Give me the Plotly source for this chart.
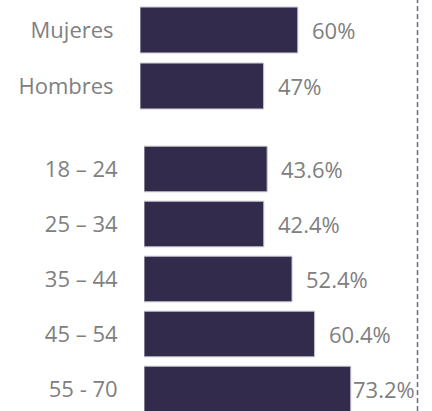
import plotly.graph_objects as go

gender_labels = ["Mujeres", "Hombres"]
gender_values = [60, 47]
age_labels = ["18 – 24", "25 – 34", "35 – 44", "45 – 54", "55 - 70"]
age_values = [43.6, 42.4, 52.4, 60.4, 73.2]

W, H = 432, 411
BAR = "#322b4b"
TXT = "#808080"
FONT = "Open Sans"
FS = 22

fig = go.Figure()
fig.add_trace(go.Bar(
    y=gender_labels, x=gender_values, orientation="h", width=0.82,
    marker=dict(color=BAR, line=dict(color="#c8c8d0", width=1)),
    xaxis="x", yaxis="y", hoverinfo="skip", showlegend=False))
fig.add_trace(go.Bar(
    y=age_labels, x=age_values, orientation="h", width=0.83,
    marker=dict(color=BAR, line=dict(color="#c8c8d0", width=1)),
    xaxis="x2", yaxis="y2", hoverinfo="skip", showlegend=False))

def fy(px):
    return 1 - px / H

line_x = 417.5
x1_left, x1_scale = 140, 2.63
x2_left, x2_scale = 144, 2.825

axis_common = dict(showgrid=False, zeroline=False, showline=False, fixedrange=True)
fig.update_layout(
    width=W, height=H, margin=dict(l=0, r=0, t=0, b=0),
    paper_bgcolor="white", plot_bgcolor="white",
    font=dict(family=FONT, size=FS, color=TXT),
    xaxis=dict(domain=[x1_left / W, line_x / W], range=[0, (line_x - x1_left) / x1_scale],
               showticklabels=False, anchor="y", **axis_common),
    yaxis=dict(domain=[fy(114), fy(2)], range=[1.5, -0.5], anchor="x",
               ticks="outside", ticklen=21, tickcolor="rgba(0,0,0,0)",
               tickfont=dict(family=FONT, size=FS, color=TXT), **axis_common),
    xaxis2=dict(domain=[x2_left / W, line_x / W], range=[0, (line_x - x2_left) / x2_scale],
                showticklabels=False, anchor="y2", **axis_common),
    yaxis2=dict(domain=[fy(411), fy(141.5)], range=[4.4, -0.5], anchor="x2",
                ticks="outside", ticklen=21, tickcolor="rgba(0,0,0,0)",
                tickfont=dict(family=FONT, size=FS, color=TXT), **axis_common),
)

ann = []
for lab, v in zip(gender_labels, gender_values):
    ann.append(dict(x=v, y=lab, xref="x", yref="y", text=f"{v:g}%", showarrow=False,
                    xanchor="left", xshift=12, yshift=0, font=dict(family=FONT, size=FS, color=TXT)))
for i, (lab, v) in enumerate(zip(age_labels, age_values)):
    shift = 12 if i < len(age_labels) - 1 else 0
    ann.append(dict(x=v, y=lab, xref="x2", yref="y2", text=f"{v:.1f}%", showarrow=False,
                    xanchor="left", xshift=shift, yshift=0, font=dict(family=FONT, size=FS, color=TXT)))
fig.update_layout(annotations=ann)

fig.add_shape(type="line", xref="paper", yref="paper", x0=line_x / W, x1=line_x / W, y0=0, y1=1,
              line=dict(color="#6c6a88", width=1.5, dash="5px,3px"))

fig.write_html("out.html", config={"displayModeBar": False},
               post_script="document.body.style.margin='0';document.body.style.padding='0';")
